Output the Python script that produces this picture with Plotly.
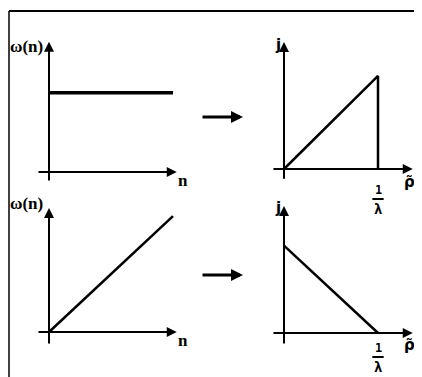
import plotly.graph_objects as go

# the page adds an 8px body margin, so the figure is drawn 8px in and down
OFF = 8
W, H = 422 - OFF, 377 - OFF

# data for the four sketches (omega(n) -> j(rho~))
n_const = [0, 1]
w_const = [0.64, 0.64]

rho_tri = [0, 1, 1]
j_tri = [0, 0.99, 0]

n_lin = [0, 1]
w_lin = [0, 0.935]

rho_dec = [0, 1]
j_dec = [0.93, 0]

x_label_left = "n"
y_label_left = "ω(n)"
x_label_right = "ρ̃"
y_label_right = "j"

# panel layout: origin pixel (page coords), pixels per unit, x range, y range
panels = {
    1: dict(o=(49, 172), s=124, xr=[-0.2, 1.3], yr=[-0.2, 1.2]),
    2: dict(o=(284, 169), s=94, xr=[-0.2, 1.45], yr=[-0.45, 1.4]),
    3: dict(o=(49, 332), s=124, xr=[-0.2, 1.3], yr=[-0.2, 1.1]),
    4: dict(o=(284, 333), s=94, xr=[-0.2, 1.45], yr=[-0.42, 1.4]),
}

fig = go.Figure()
layout = dict(width=W, height=H, margin=dict(l=0, r=0, t=0, b=0),
              paper_bgcolor="white", plot_bgcolor="white", showlegend=False)

for i, p in panels.items():
    ox, oy = p["o"][0] - OFF, p["o"][1] - OFF
    s = p["s"]
    xd = [(ox + p["xr"][0] * s) / W, (ox + p["xr"][1] * s) / W]
    yd = [1 - (oy - p["yr"][0] * s) / H, 1 - (oy - p["yr"][1] * s) / H]
    sx = "" if i == 1 else str(i)
    layout["xaxis" + sx] = dict(domain=xd, range=p["xr"], visible=False, anchor="y" + sx)
    layout["yaxis" + sx] = dict(domain=yd, range=p["yr"], visible=False, anchor="x" + sx)

fig.update_layout(**layout)

line = dict(color="black", width=2.5)
fig.add_trace(go.Scatter(x=n_const, y=w_const, mode="lines", line=dict(color="black", width=3.5), xaxis="x", yaxis="y"))
fig.add_trace(go.Scatter(x=rho_tri, y=j_tri, mode="lines", line=line, xaxis="x2", yaxis="y2"))
fig.add_trace(go.Scatter(x=n_lin, y=w_lin, mode="lines", line=line, xaxis="x3", yaxis="y3"))
fig.add_trace(go.Scatter(x=rho_dec, y=j_dec, mode="lines", line=line, xaxis="x4", yaxis="y4"))

# axes with arrowheads
axes_ext = {
    1: dict(xa=(-0.097, 1.03), ya=(-0.08, 1.05)),
    2: dict(xa=(-0.128, 1.37), ya=(-0.12, 1.35)),
    3: dict(xa=(-0.097, 1.03), ya=(-0.105, 1.0)),
    4: dict(xa=(-0.128, 1.37), ya=(-0.128, 1.35)),
}
for i, e in axes_ext.items():
    xr = "x" if i == 1 else "x" + str(i)
    yr = "y" if i == 1 else "y" + str(i)
    fig.add_annotation(x=e["xa"][1], y=0, ax=e["xa"][0], ay=0, xref=xr, yref=yr, axref=xr, ayref=yr,
                       text="", showarrow=True, arrowhead=2, arrowsize=1, arrowwidth=2, arrowcolor="black")
    fig.add_annotation(x=0, y=e["ya"][1], ax=0, ay=e["ya"][0], xref=xr, yref=yr, axref=xr, ayref=yr,
                       text="", showarrow=True, arrowhead=2, arrowsize=1, arrowwidth=2, arrowcolor="black")

serif = dict(family="Liberation Serif", size=17, color="black")
sans = dict(family="DejaVu Sans", size=15, color="black")

# left panel labels
for xr, yr, ly, ny in [("x", "y", 1.01, -0.065), ("x3", "y3", 1.04, -0.07)]:
    fig.add_annotation(x=-0.03, y=ly, xref=xr, yref=yr, text="<b>" + y_label_left + "</b>",
                       showarrow=False, xanchor="right", font=serif)
    fig.add_annotation(x=1.08, y=ny, xref=xr, yref=yr, text="<b>" + x_label_left + "</b>",
                       showarrow=False, font=serif)

# right panel labels, 1/lambda written as a stacked fraction
for xr, yr, jy, ry, bar_y in [("x2", "y2", 1.32, -0.14, -0.32),
                              ("x4", "y4", 1.33, -0.13, -0.255)]:
    fig.add_annotation(x=-0.06, y=jy, xref=xr, yref=yr, text="<b>" + y_label_right + "</b>",
                       showarrow=False, font=sans)
    fig.add_annotation(x=1.34, y=ry, xref=xr, yref=yr, text="<b>" + x_label_right + "</b>",
                       showarrow=False, font=sans)
    fig.add_annotation(x=1, y=bar_y, xref=xr, yref=yr, text="<b>1</b>", showarrow=False,
                       yanchor="bottom", yshift=1, borderpad=0,
                       font=dict(family="DejaVu Sans Mono", size=12, color="black"))
    fig.add_shape(type="line", x0=0.94, x1=1.06, y0=bar_y, y1=bar_y, xref=xr, yref=yr,
                  line=dict(color="black", width=2))
    fig.add_annotation(x=1, y=bar_y, xref=xr, yref=yr, text="<b>λ</b>", showarrow=False,
                       yanchor="top", yshift=-1, borderpad=0,
                       font=dict(family="DejaVu Sans Mono", size=14, color="black"))

# transformation arrows between columns
for py in [117, 275]:
    fig.add_annotation(x=(243 - OFF) / W, y=1 - (py - OFF) / H, xref="paper", yref="paper", ax=-42, ay=0,
                       text="", showarrow=True, arrowhead=2, arrowsize=0.8, arrowwidth=3, arrowcolor="black")

# frame (left and top edges)
fx, fy = 1 / W, 1 - (11 - OFF) / H
fig.add_shape(type="line", xref="paper", yref="paper", x0=fx, x1=fx, y0=0, y1=fy,
              line=dict(color="black", width=1.5))
fig.add_shape(type="line", xref="paper", yref="paper", x0=fx, x1=1, y0=fy, y1=fy,
              line=dict(color="black", width=2))

fig.write_html("out.html")
